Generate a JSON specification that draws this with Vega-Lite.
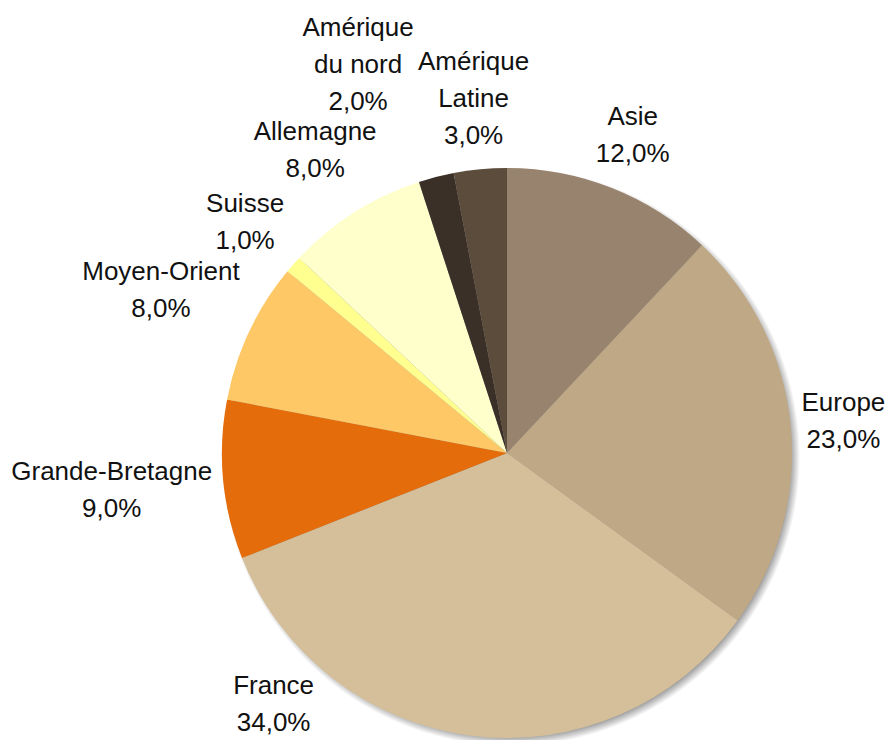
{
  "$schema": "https://vega.github.io/schema/vega-lite/v6.json",
  "autosize": "none",
  "width": 570,
  "height": 570,
  "padding": {"left": 222, "top": 168, "right": 100, "bottom": 2},
  "background": "white",
  "config": {"view": {"stroke": null}},
  "data": {"values": [
    {"Pays": "Asie", "Part": 12},
    {"Pays": "Europe", "Part": 23},
    {"Pays": "France", "Part": 34},
    {"Pays": "Grande-Bretagne", "Part": 9},
    {"Pays": "Moyen-Orient", "Part": 8},
    {"Pays": "Suisse", "Part": 1},
    {"Pays": "Allemagne", "Part": 8},
    {"Pays": "Amérique du nord", "Part": 2},
    {"Pays": "Amérique Latine", "Part": 3}
  ]},
  "transform": [
    {"window": [{"op": "row_number", "as": "rang"}]},
    {"joinaggregate": [{"op": "sum", "field": "Part", "as": "total"}]},
    {"window": [{"op": "sum", "field": "Part", "as": "cum"}], "sort": [{"field": "rang"}], "frame": [null, 0]},
    {"calculate": "replace(datum.Pays, 'Amérique ', 'Amérique\\n') + '\\n' + replace(format(datum.Part / 100, '.1%'), '.', ',')", "as": "label"},
    {"calculate": "split(datum.label, '\\n')", "as": "lines"},
    {"calculate": "length(datum.lines)", "as": "nlines"},
    {"calculate": "datum.Part <= 2 && datum.nlines > 2", "as": "serre"},
    {"calculate": "2 * PI * (datum.cum - datum.Part / 2) / datum.total - (datum.serre ? 0.115 : 0)", "as": "mid"},
    {"calculate": "max(length(datum.lines[0]), length(datum.lines[1]), datum.nlines > 2 ? length(datum.lines[2]) : 0)", "as": "nchar"},
    {"calculate": "295 + datum.nchar * 6.6 * abs(sin(datum.mid)) + datum.nlines * 18.5 * abs(cos(datum.mid)) + (datum.serre ? 50 : 0)", "as": "labelR"}
  ],
  "layer": [
    {
      "data": {"values": [{"ombre": 1}]},
      "transform": [],
      "mark": {
        "type": "arc", "outerRadius": 289, "theta": 0, "theta2": 6.2832,
        "x": {"expr": "width / 2 + 4"}, "y": {"expr": "height / 2 + 4"},
        "fill": {
          "gradient": "radial", "x1": 0.5, "y1": 0.5, "r1": 0, "x2": 0.5, "y2": 0.5, "r2": 0.5,
          "stops": [
            {"offset": 0, "color": "#8f8f8f"},
            {"offset": 0.965, "color": "#9a9a9a"},
            {"offset": 1, "color": "#ffffff"}
          ]
        }
      },
      "encoding": {}
    },
    {
      "mark": {"type": "arc", "outerRadius": 285, "stroke": null},
      "encoding": {
        "theta": {"field": "Part", "type": "quantitative", "stack": true},
        "order": {"field": "rang", "type": "quantitative"},
        "color": {
          "field": "Pays", "type": "nominal", "legend": null,
          "scale": {
            "domain": ["Asie", "Europe", "France", "Grande-Bretagne", "Moyen-Orient", "Suisse", "Allemagne", "Amérique du nord", "Amérique Latine"],
            "range": ["#98836e", "#bfa885", "#d4bf9a", "#e46c0a", "#fec866", "#ffff8f", "#ffffcc", "#3a3028", "#5c4c3c"]
          }
        }
      }
    },
    {
      "transform": [{"filter": "datum.Pays !== 'France'"}],
      "mark": {"type": "text", "font": "Liberation Sans", "fontSize": 26, "lineHeight": 37, "lineBreak": "\n", "align": "center", "baseline": "middle", "color": "#111111", "dy": {"expr": "-(datum.nlines - 1) * 18.5"}},
      "encoding": {
        "theta": {"field": "mid", "type": "quantitative", "scale": null, "stack": null},
        "radius": {"field": "labelR", "type": "quantitative", "scale": null},
        "text": {"field": "label"}
      }
    },
    {
      "transform": [{"filter": "datum.Pays === 'France'"}],
      "mark": {"type": "text", "font": "Liberation Sans", "fontSize": 26, "lineHeight": 37, "lineBreak": "\n", "align": "center", "baseline": "middle", "color": "#111111", "theta": 3.89, "radius": 343, "dy": -18.5},
      "encoding": {
        "text": {"field": "label"}
      }
    }
  ]
}
